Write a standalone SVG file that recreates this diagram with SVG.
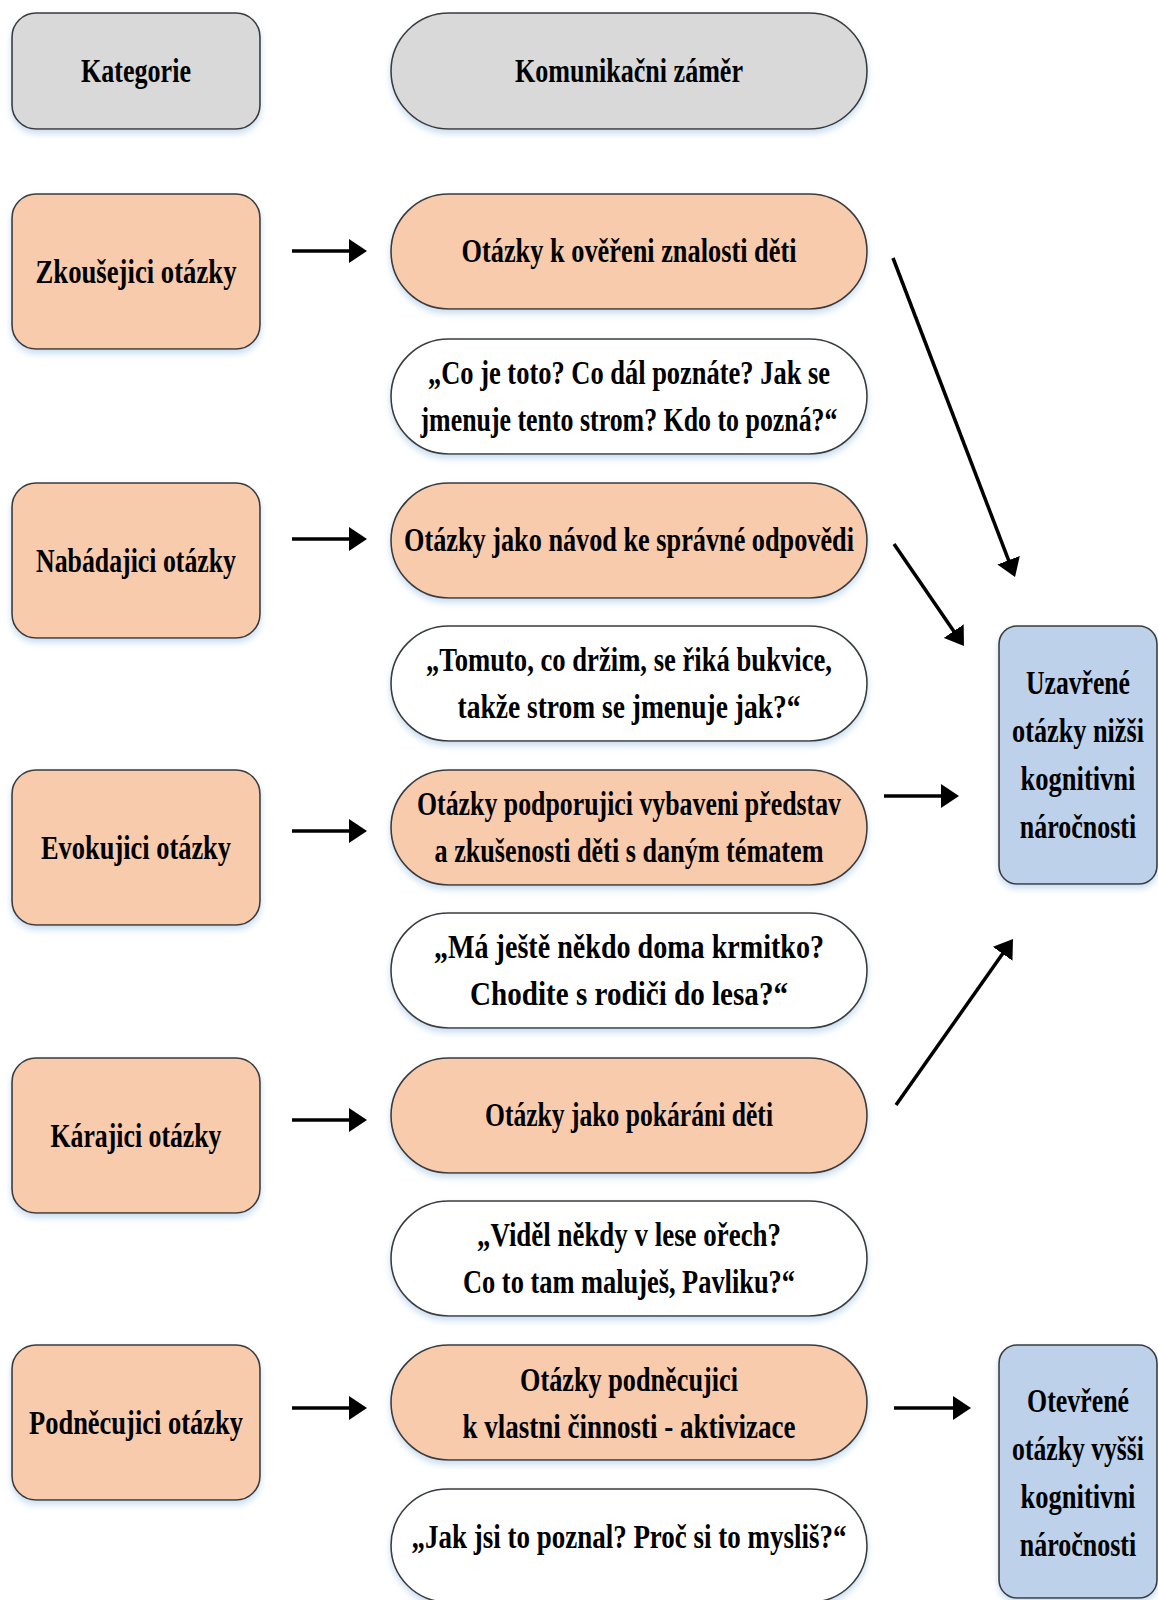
<svg xmlns="http://www.w3.org/2000/svg" width="1158" height="1600" viewBox="0 0 1158 1600">
<defs>
<filter id="sh" x="-10%" y="-10%" width="120%" height="130%">
<feDropShadow dx="0" dy="4" stdDeviation="3" flood-color="#9fc2e4" flood-opacity="0.55"/>
</filter>
<marker id="ah" markerUnits="userSpaceOnUse" viewBox="0 0 18 24" markerWidth="18" markerHeight="24" refX="14" refY="12" orient="auto">
<path d="M0,0 L18,12 L0,24 z" fill="#000"/>
</marker>
</defs>
<style>
.box{stroke:#3a3a3a;stroke-width:1.6;filter:url(#sh)}
.g{fill:#d9d9d9}.o{fill:#f8cbad}.w{fill:#ffffff}.b{fill:#bdd1ea}
text{font-family:"Liberation Serif","Times New Roman",serif;font-weight:bold;font-size:34px;fill:#000;text-anchor:middle}
.c line{stroke:#000;stroke-width:3.5;marker-end:url(#ah)}
</style>
<rect width="1158" height="1600" fill="#fff"/>

<g id="h-kategorie"><rect class="box g" x="12" y="13" width="248" height="116" rx="24"/><text x="136" y="82" textLength="110" lengthAdjust="spacingAndGlyphs">Kategorie</text></g>
<g id="h-zamer"><rect class="box g" x="391" y="13" width="476" height="116" rx="58"/><text x="629" y="82" textLength="228" lengthAdjust="spacingAndGlyphs">Komunikačni záměr</text></g>

<g id="k1"><rect class="box o" x="12" y="194" width="248" height="155" rx="24"/><text x="136" y="283" textLength="201" lengthAdjust="spacingAndGlyphs">Zkoušejici otázky</text></g>
<g id="k2"><rect class="box o" x="12" y="483" width="248" height="155" rx="24"/><text x="136" y="572" textLength="200" lengthAdjust="spacingAndGlyphs">Nabádajici otázky</text></g>
<g id="k3"><rect class="box o" x="12" y="770" width="248" height="155" rx="24"/><text x="136" y="859" textLength="190" lengthAdjust="spacingAndGlyphs">Evokujici otázky</text></g>
<g id="k4"><rect class="box o" x="12" y="1058" width="248" height="155" rx="24"/><text x="136" y="1147" textLength="171" lengthAdjust="spacingAndGlyphs">Kárajici otázky</text></g>
<g id="k5"><rect class="box o" x="12" y="1345" width="248" height="155" rx="24"/><text x="136" y="1434" textLength="214" lengthAdjust="spacingAndGlyphs">Podněcujici otázky</text></g>

<g id="z1"><rect class="box o" x="391" y="194" width="476" height="115" rx="57.5"/><text x="629" y="262" textLength="335" lengthAdjust="spacingAndGlyphs">Otázky k ověřeni znalosti děti</text></g>
<g id="p1"><rect class="box w" x="391" y="339" width="476" height="115" rx="57.5"/><text x="629" y="384" textLength="402" lengthAdjust="spacingAndGlyphs">„Co je toto? Co dál poznáte? Jak se</text><text x="629" y="431" textLength="417" lengthAdjust="spacingAndGlyphs">jmenuje tento strom? Kdo to pozná?“</text></g>

<g id="z2"><rect class="box o" x="391" y="483" width="476" height="115" rx="57.5"/><text x="629" y="551" textLength="450" lengthAdjust="spacingAndGlyphs">Otázky jako návod ke správné odpovědi</text></g>
<g id="p2"><rect class="box w" x="391" y="626" width="476" height="115" rx="57.5"/><text x="629" y="671" textLength="406" lengthAdjust="spacingAndGlyphs">„Tomuto, co držim, se řiká bukvice,</text><text x="629" y="718" textLength="343" lengthAdjust="spacingAndGlyphs">takže strom se jmenuje jak?“</text></g>

<g id="z3"><rect class="box o" x="391" y="770" width="476" height="115" rx="57.5"/><text x="629" y="815" textLength="424" lengthAdjust="spacingAndGlyphs">Otázky podporujici vybaveni představ</text><text x="629" y="862" textLength="389" lengthAdjust="spacingAndGlyphs">a zkušenosti děti s daným tématem</text></g>
<g id="p3"><rect class="box w" x="391" y="913" width="476" height="115" rx="57.5"/><text x="629" y="958" textLength="390" lengthAdjust="spacingAndGlyphs">„Má ještě někdo doma krmitko?</text><text x="629" y="1005" textLength="318" lengthAdjust="spacingAndGlyphs">Chodite s rodiči do lesa?“</text></g>

<g id="z4"><rect class="box o" x="391" y="1058" width="476" height="115" rx="57.5"/><text x="629" y="1126" textLength="288" lengthAdjust="spacingAndGlyphs">Otázky jako pokáráni děti</text></g>
<g id="p4"><rect class="box w" x="391" y="1201" width="476" height="115" rx="57.5"/><text x="629" y="1246" textLength="304" lengthAdjust="spacingAndGlyphs">„Viděl někdy v lese ořech?</text><text x="629" y="1293" textLength="332" lengthAdjust="spacingAndGlyphs">Co to tam maluješ, Pavliku?“</text></g>

<g id="z5"><rect class="box o" x="391" y="1345" width="476" height="115" rx="57.5"/><text x="629" y="1391" textLength="218" lengthAdjust="spacingAndGlyphs">Otázky podněcujici</text><text x="629" y="1438" textLength="333" lengthAdjust="spacingAndGlyphs">k vlastni činnosti - aktivizace</text></g>
<g id="p5"><rect class="box w" x="391" y="1489" width="476" height="113" rx="56.5"/><text x="629" y="1548" textLength="435" lengthAdjust="spacingAndGlyphs">„Jak jsi to poznal? Proč si to mysliš?“</text></g>

<g id="uzavrene"><rect class="box b" x="999" y="626" width="158" height="258" rx="18"/>
<text transform="translate(1078,694) scale(0.755,1)">Uzavřené</text>
<text transform="translate(1078,742) scale(0.772,1)">otázky nižši</text>
<text transform="translate(1078,790) scale(0.78,1)">kognitivni</text>
<text transform="translate(1078,838) scale(0.765,1)">náročnosti</text></g>

<g id="otevrene"><rect class="box b" x="999" y="1345" width="158" height="253" rx="18"/>
<text transform="translate(1078,1412) scale(0.761,1)">Otevřené</text>
<text transform="translate(1078,1460) scale(0.755,1)">otázky vyšši</text>
<text transform="translate(1078,1508) scale(0.78,1)">kognitivni</text>
<text transform="translate(1078,1556) scale(0.765,1)">náročnosti</text></g>

<g id="connectors" class="c">
<line x1="292" y1="251" x2="363" y2="251"/>
<line x1="292" y1="539" x2="363" y2="539"/>
<line x1="292" y1="831" x2="363" y2="831"/>
<line x1="292" y1="1120" x2="363" y2="1120"/>
<line x1="292" y1="1408" x2="363" y2="1408"/>
<line x1="893" y1="258" x2="1013.6" y2="573.3"/>
<line x1="894" y1="544" x2="961.7" y2="642.7"/>
<line x1="884" y1="796" x2="955" y2="796"/>
<line x1="896" y1="1105" x2="1010.7" y2="942.3"/>
<line x1="894" y1="1408" x2="967" y2="1408"/>
</g>
</svg>
